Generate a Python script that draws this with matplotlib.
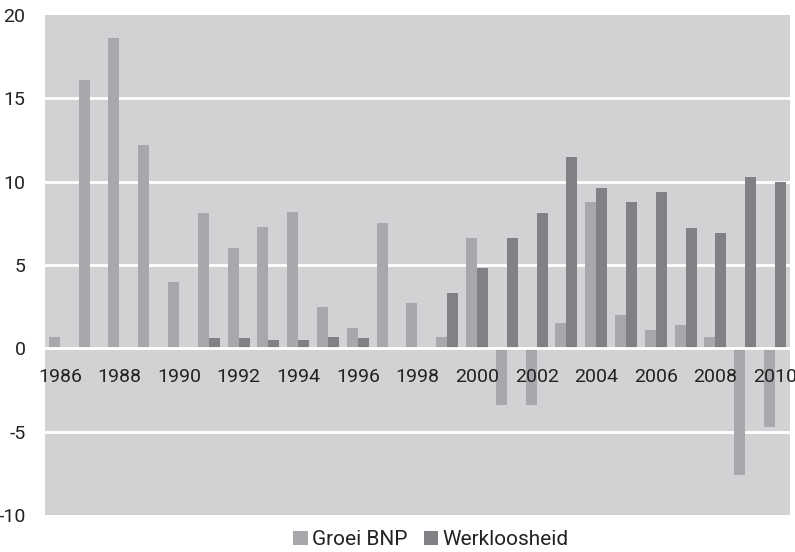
#!/usr/bin/env python3
# -*- coding: utf-8 -*-

import matplotlib
matplotlib.use("Agg")
import matplotlib.pyplot as plt
import numpy as np

# data
jaren = list(range(1986, 2011))
groei_bnp = [0.7, 16.1, 18.6, 12.2, 4.0, 8.1, 6.0, 7.3, 8.2, 2.5, 1.2, 7.5,
             2.7, 0.7, 6.6, -3.4, -3.4, 1.5, 8.8, 2.0, 1.1, 1.4, 0.7, -7.6, -4.7]
werkloosheid = [0, 0, 0, 0, 0, 0.6, 0.6, 0.5, 0.5, 0.7, 0.6, 0, 0, 3.3, 4.8,
                6.6, 8.1, 11.5, 9.6, 8.8, 9.4, 7.2, 6.9, 10.3, 10.0]
yticks = [-10, -5, 0, 5, 10, 15, 20]

plt.rcParams['font.family'] = ['Roboto', 'DejaVu Sans']

fig = plt.figure(figsize=(7.95, 5.52), dpi=100)
ax = fig.add_axes([0.0566, 0.067, 0.937, 0.906])
ax.set_facecolor('#d1d2d4')

x = np.arange(len(jaren))
w = 0.37
ax.bar(x - w / 2, groei_bnp, w, color='#a7a8ab', label='Groei BNP', zorder=2)
ax.bar(x + w / 2, werkloosheid, w, color='#808184', label='Werkloosheid',
       zorder=2)

ax.set_xlim(-0.5, len(jaren) - 0.5)
ax.set_ylim(-10, 20)
ax.set_yticks(yticks)
ax.set_yticklabels([str(v) for v in yticks], fontsize=14, color='#222222')
for v in yticks[1:-1]:
    ax.axhline(v, color='white', lw=2, zorder=1 if v != 0 else 3)

# jaartallen net onder de nullijn, boven de balken
ax.spines['bottom'].set_position(('data', 0))
ax.set_xticks(x[::2])
ax.set_xticklabels([str(j) for j in jaren[::2]], fontsize=14, color='#222222')
ax.tick_params(axis='x', length=0, pad=14)
ax.tick_params(axis='y', length=0, pad=14)
ax.xaxis.set_zorder(5)
for s in ax.spines.values():
    s.set_visible(False)

fig.legend(loc='center', bbox_to_anchor=(0.542, 0.022), ncol=2, frameon=False,
           fontsize=15, handlelength=0.7, handleheight=0.7, handletextpad=0.2,
           columnspacing=0.8, labelcolor='#222222')

fig.savefig('out.png', dpi=100)
